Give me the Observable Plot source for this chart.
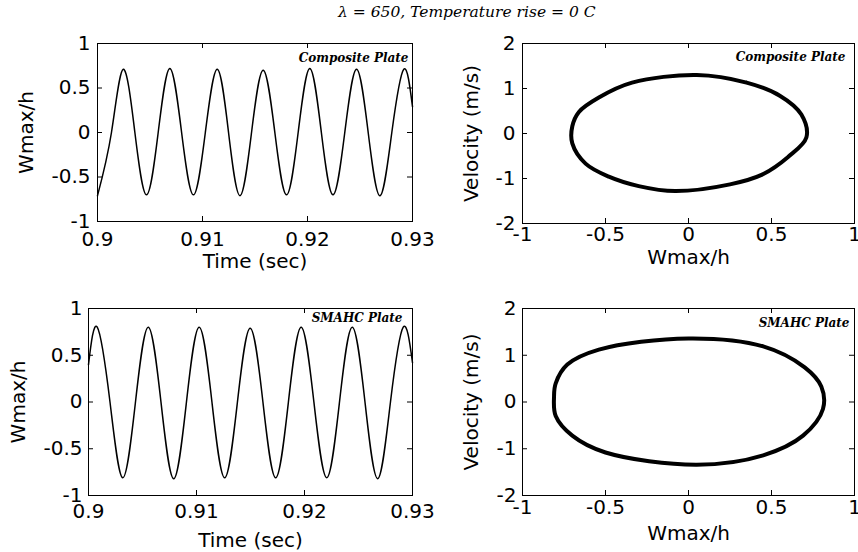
<!DOCTYPE html>
<html><head><meta charset="utf-8">
<script src="https://cdn.jsdelivr.net/npm/d3@7"></script>
<script src="https://cdn.jsdelivr.net/npm/@observablehq/plot@0.6"></script>
<style>
html,body{margin:0;padding:0;background:#fff;}
#wrap{position:relative;width:858px;height:552px;overflow:hidden;background:#fff;}
#wrap svg{position:absolute;left:0;top:0;}
#title{position:absolute;left:338px;top:4px;font-family:"DejaVu Serif";font-style:italic;font-size:15.5px;line-height:16px;white-space:nowrap;color:#000;}
</style></head>
<body><div id="wrap"><div id="title"></div></div>
<script>
// ---- data ----
const titleText = "λ = 650, Temperature rise = 0 C";
const panelNotes = ["Composite Plate", "SMAHC Plate"];

const compTime = [0.9000, 0.90133, 0.90245, 0.90356, 0.90467, 0.90578, 0.90689, 0.90801, 0.90914, 0.91027, 0.91140, 0.91248, 0.91357, 0.91467, 0.91578, 0.91689, 0.91800, 0.91911, 0.92022, 0.92132, 0.92243, 0.92355, 0.92467, 0.92578, 0.92690, 0.92803, 0.92917, 0.9300];
const compW    = [-0.71, 0, 0.71, 0, -0.70, 0, 0.72, 0, -0.70, 0, 0.71, 0, -0.71, 0, 0.70, 0, -0.70, 0, 0.72, 0, -0.70, 0, 0.71, 0, -0.71, 0, 0.71, 0.29];

const smahcTime = [0.9000, 0.90081, 0.90199, 0.90317, 0.90435, 0.90553, 0.90671, 0.90789, 0.90907, 0.91025, 0.91143, 0.91261, 0.91379, 0.91497, 0.91615, 0.91733, 0.91851, 0.91969, 0.92087, 0.92206, 0.92324, 0.92442, 0.92560, 0.92678, 0.92796, 0.92914, 0.9300];
const smahcW    = [0.40, 0.80, 0, -0.81, 0, 0.80, 0, -0.82, 0, 0.80, 0, -0.81, 0, 0.79, 0, -0.81, 0, 0.80, 0, -0.81, 0, 0.80, 0, -0.82, 0, 0.80, 0.42];

const compPhaseW = [0.05, 0.35, 0.55, 0.68, 0.71, 0.60, 0.44, 0.25, -0.08, -0.30, -0.48, -0.62, -0.70, -0.70, -0.66, -0.54, -0.34];
const compPhaseV = [1.30, 1.13, 0.84, 0.42, -0.09, -0.52, -0.92, -1.13, -1.28, -1.17, -0.96, -0.67, -0.22, 0.16, 0.48, 0.80, 1.13];

const smahcPhaseW = [0.0, 0.45, 0.70, 0.80, 0.81, 0.69, 0.45, 0.05, -0.50, -0.70, -0.80, -0.81, -0.80, -0.73, -0.54];
const smahcPhaseV = [1.36, 1.19, 0.74, 0.33, -0.15, -0.72, -1.14, -1.34, -1.08, -0.72, -0.30, 0.12, 0.40, 0.80, 1.12];

const timeTicks = [0.9, 0.91, 0.92, 0.93];
const timeTickLabels = ["0.9", "0.91", "0.92", "0.93"];
const wTicks = [-1, -0.5, 0, 0.5, 1];
const wTickLabels = ["-1", "-0.5", "0", "0.5", "1"];
const vTicks = [-2, -1, 0, 1, 2];
const vTickLabels = ["-2", "-1", "0", "1", "2"];

// ---- drawing ----
document.getElementById("title").textContent = titleText;
const W = 858, H = 552, TICK = 5;
const fmt = (ticks, labels) => d => labels[ticks.indexOf(d)];
const rows = (xs, ys) => xs.map((x, i) => ({x, y: ys[i]}));

function panel(o) {
  const [x0, y0, x1, y1] = o.frame;
  const fw = x1 - x0, fh = y1 - y0;
  return Plot.plot({
    width: W, height: H,
    marginLeft: x0, marginRight: W - x1, marginTop: y0, marginBottom: H - y1,
    style: {fontFamily: "DejaVu Sans", fontSize: "20px", color: "black", background: "transparent"},
    x: {domain: o.xDomain},
    y: {domain: o.yDomain},
    marks: [
      Plot.line(o.data, {x: "x", y: "y", curve: o.curve, stroke: "black", strokeWidth: o.sw, strokeLinejoin: "round"}),
      Plot.frame({stroke: "black", strokeWidth: 1}),
      // inward ticks on all four sides
      Plot.tickX(o.xTicks, {x: d => d, stroke: "black", insetTop: fh - TICK}),
      Plot.tickX(o.xTicks, {x: d => d, stroke: "black", insetBottom: fh - TICK}),
      Plot.tickY(o.yTicks, {y: d => d, stroke: "black", insetRight: fw - TICK}),
      Plot.tickY(o.yTicks, {y: d => d, stroke: "black", insetLeft: fw - TICK}),
      Plot.axisX(o.xTicks, {anchor: "bottom", tickSize: 0, tickPadding: o.xPad, tickFormat: fmt(o.xTicks, o.xLabels),
        label: o.xLabel, labelAnchor: "center", labelOffset: o.xLabelOff, labelArrow: "none", fontSize: 20}),
      Plot.axisY(o.yTicks, {anchor: "left", tickSize: 0, tickPadding: o.yPad, tickFormat: fmt(o.yTicks, o.yLabels),
        label: o.yLabel, labelAnchor: "center", labelOffset: o.yLabelOff, labelArrow: "none", fontSize: 20}),
      Plot.text([o.note], {text: d => d, frameAnchor: "top-right", dx: -o.noteDx, dy: o.noteDy,
        textAnchor: "end", lineAnchor: "middle", fontFamily: "DejaVu Serif", fontStyle: "italic", fontWeight: "bold", fontSize: 12})
    ]
  });
}

const wrap = document.getElementById("wrap");
wrap.append(panel({
  frame: [97, 43, 412, 221], xDomain: [0.9, 0.93], yDomain: [-1, 1],
  xTicks: timeTicks, xLabels: timeTickLabels, yTicks: wTicks, yLabels: wTickLabels,
  xLabel: "Time (sec)", yLabel: "Wmax/h", xPad: 10, xLabelOff: 46, yPad: 7, yLabelOff: 79,
  note: panelNotes[0], noteDx: 4, noteDy: 15,
  data: rows(compTime, compW), curve: "natural", sw: 1.5
}));
wrap.append(panel({
  frame: [522, 43, 854, 223], xDomain: [-1, 1], yDomain: [-2, 2],
  xTicks: wTicks, xLabels: wTickLabels, yTicks: vTicks, yLabels: vTickLabels,
  xLabel: "Wmax/h", yLabel: "Velocity (m/s)", xPad: 3, xLabelOff: 40, yPad: 7, yLabelOff: 59,
  note: panelNotes[0], noteDx: 9, noteDy: 14,
  data: rows(compPhaseW, compPhaseV), curve: "catmull-rom-closed", sw: 4
}));
wrap.append(panel({
  frame: [88, 308, 412, 495], xDomain: [0.9, 0.93], yDomain: [-1, 1],
  xTicks: timeTicks, xLabels: timeTickLabels, yTicks: wTicks, yLabels: wTickLabels,
  xLabel: "Time (sec)", yLabel: "Wmax/h", xPad: 8, xLabelOff: 51, yPad: 6, yLabelOff: 78,
  note: panelNotes[1], noteDx: 10, noteDy: 10,
  data: rows(smahcTime, smahcW), curve: "natural", sw: 1.5
}));
wrap.append(panel({
  frame: [522, 308, 854, 495], xDomain: [-1, 1], yDomain: [-2, 2],
  xTicks: wTicks, xLabels: wTickLabels, yTicks: vTicks, yLabels: vTickLabels,
  xLabel: "Wmax/h", yLabel: "Velocity (m/s)", xPad: 4, xLabelOff: 44, yPad: 6, yLabelOff: 59,
  note: panelNotes[1], noteDx: 5, noteDy: 15,
  data: rows(smahcPhaseW, smahcPhaseV), curve: "catmull-rom-closed", sw: 4
}));
</script>
</body></html>
